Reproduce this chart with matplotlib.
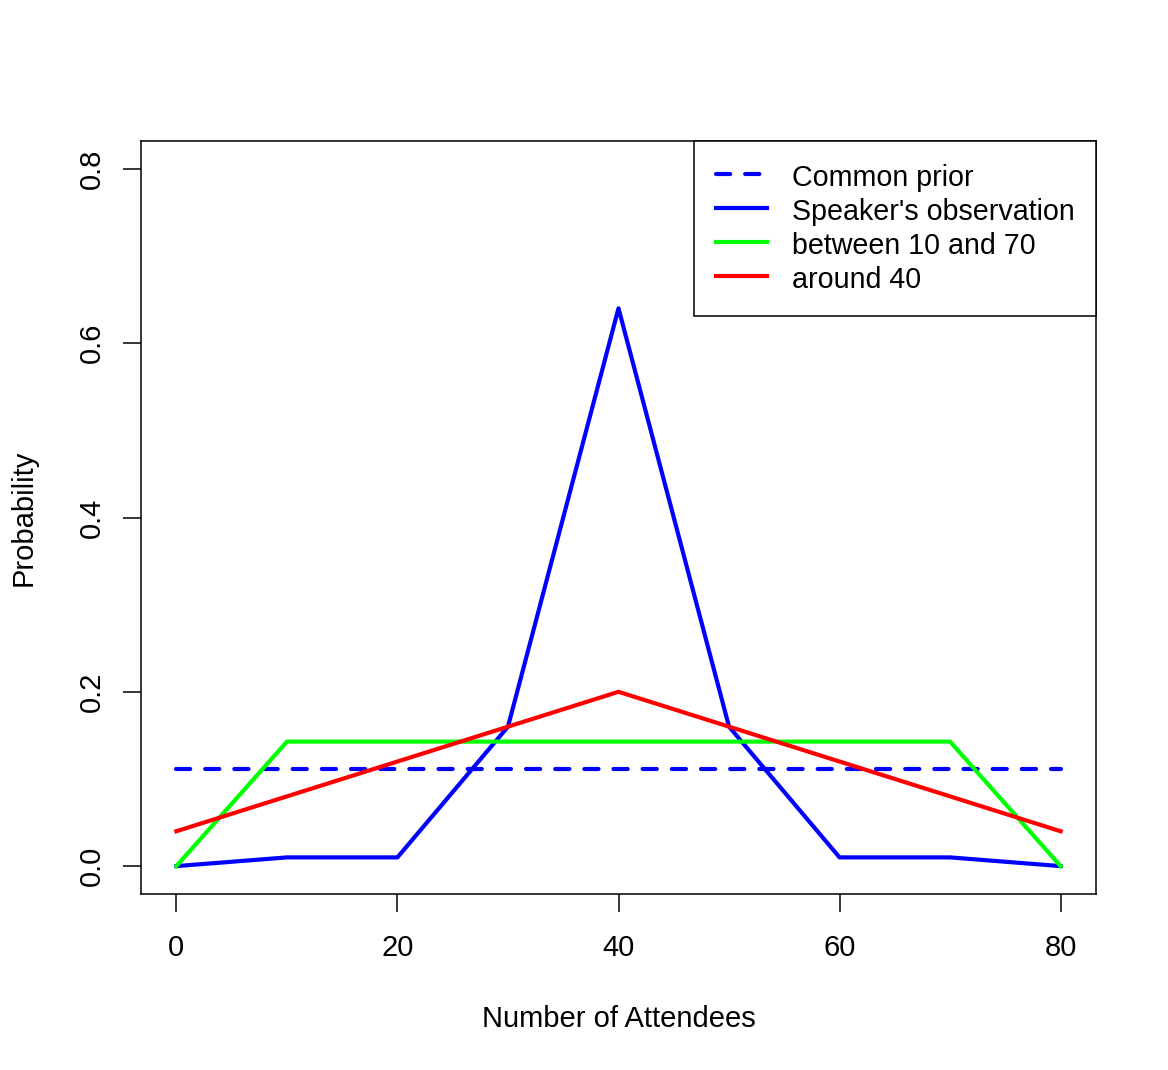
import matplotlib
matplotlib.use("Agg")
import matplotlib.pyplot as plt

plt.rcParams['font.family'] = ['Liberation Sans', 'DejaVu Sans']

attendees = [0, 10, 20, 30, 40, 50, 60, 70, 80]
common_prior = [1/9] * 9
speaker_obs = [0.0, 0.01, 0.01, 0.16, 0.64, 0.16, 0.01, 0.01, 0.0]
between_10_70 = [0.0, 1/7, 1/7, 1/7, 1/7, 1/7, 1/7, 1/7, 0.0]
around_40 = [0.04, 0.08, 0.12, 0.16, 0.20, 0.16, 0.12, 0.08, 0.04]

x_ticks = [0, 20, 40, 60, 80]
y_ticks = [0.0, 0.2, 0.4, 0.6, 0.8]
y_tick_labels = ["0.0", "0.2", "0.4", "0.6", "0.8"]

fig = plt.figure(figsize=(11.68, 10.70), dpi=100)
ax = fig.add_axes([141/1168, 1 - 894/1070, (1096-141)/1168, (894-141)/1070])

lw = 3
ax.plot(attendees, common_prior, color='#0000FF', lw=lw, dashes=(3.4, 3.6),
        dash_capstyle='round', label='Common prior')
ax.plot(attendees, speaker_obs, color='#0000FF', lw=lw, label="Speaker's observation")
ax.plot(attendees, between_10_70, color='#00FF00', lw=lw, label='between 10 and 70')
ax.plot(attendees, around_40, color='#FF0000', lw=lw, label='around 40')

ax.set_xlim(-3.2, 83.2)
ax.set_ylim(-0.032, 0.832)

fs = 21
ax.set_xticks(x_ticks)
ax.set_xticklabels([str(t) for t in x_ticks], fontsize=fs)
ax.set_yticks(y_ticks)
ax.set_yticklabels(y_tick_labels, fontsize=fs, rotation=90, va='center')
ax.tick_params(direction='out', length=13, width=1.1, pad=16, color='black')
ax.tick_params(axis='y', pad=12)
for s in ax.spines.values():
    s.set_linewidth(1.1)
    s.set_color('black')

ax.set_xlabel('Number of Attendees', fontsize=fs, labelpad=31)
ax.set_ylabel('Probability', fontsize=fs, labelpad=29)

leg = ax.legend(loc='upper right', bbox_to_anchor=(1, 1), borderaxespad=0,
                fancybox=False, edgecolor='black', framealpha=1, fontsize=20.6,
                handlelength=1.78, handletextpad=0.874, labelspacing=0.143,
                handleheight=1.15, borderpad=0.75)
leg.get_frame().set_linewidth(1.1)

fig.savefig('out.png', dpi=100)
